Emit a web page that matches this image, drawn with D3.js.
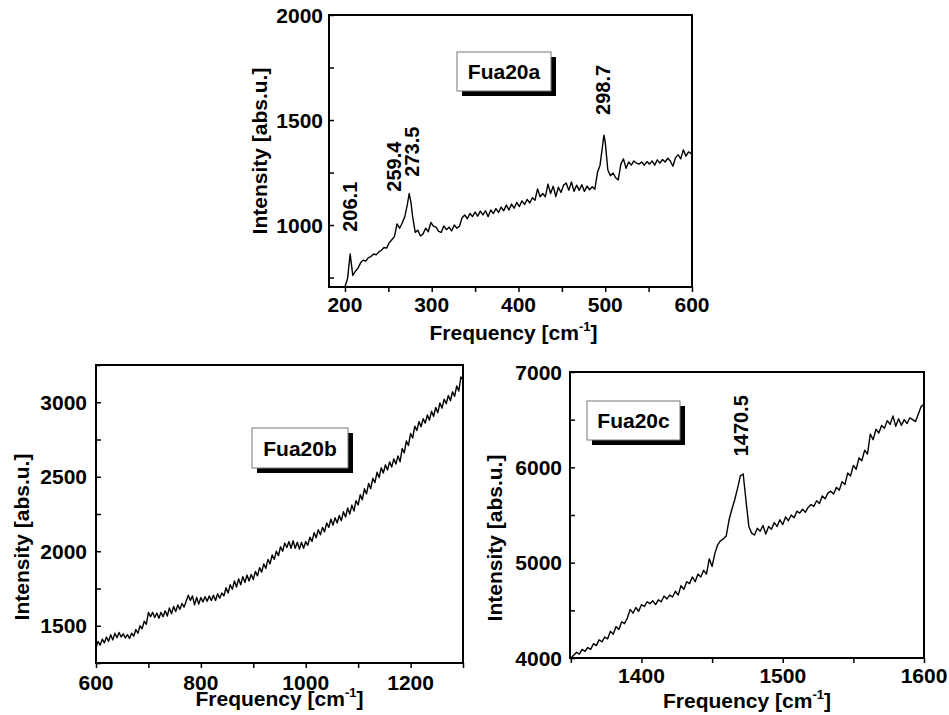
<!DOCTYPE html>
<html>
<head>
<meta charset="utf-8">
<script src="https://cdn.jsdelivr.net/npm/d3@7"></script>
<style>
body { margin: 0; background: #fff; }
text { font-family: "Liberation Sans", Arial, sans-serif; }
</style>
</head>
<body>
<svg width="949" height="715"></svg>
<script>
// spectra, [frequency, intensity]
var specA = [[200,706],[203,745],[206,862],[209,760],[212,780],[215,795],[218,820],[221,833],[224,828],[227,845],[230,850],
  [233,862],[236,858],[239,872],[242,880],[245,893],[248,890],[251,915],[254,930],[257,945],[260,1005],[263,985],
  [266,1010],[269,1040],[272,1100],[274,1150],[276,1110],[278,1040],[281,965],[284,975],[287,948],[290,958],[293,985],
  [296,968],[299,1012],[302,995],[305,990],[308,970],[311,965],[314,995],[317,978],[320,990],[323,972],[326,1000],
  [329,985],[332,995],[335,1035],[338,1048],[341,1030],[344,1055],[347,1040],[350,1062],[353,1042],[356,1066],
  [359,1048],[362,1068],[365,1040],[368,1072],[371,1055],[374,1078],[377,1060],[380,1085],[383,1068],[386,1095],
  [389,1072],[392,1100],[395,1080],[398,1108],[401,1088],[404,1115],[407,1098],[410,1122],[413,1105],[416,1130],
  [419,1118],[422,1172],[425,1135],[428,1150],[431,1135],[434,1195],[437,1150],[440,1185],[443,1135],[446,1180],
  [449,1155],[452,1190],[455,1200],[458,1165],[461,1205],[464,1160],[467,1190],[470,1165],[473,1192],[476,1160],
  [479,1185],[482,1168],[485,1182],[488,1170],[491,1250],[494,1285],[497,1380],[498.5,1428],[500,1395],[503,1262],
  [506,1235],[509,1248],[512,1225],[515,1215],[518,1290],[521,1315],[524,1270],[527,1300],[530,1285],[533,1305],
  [536,1295],[539,1290],[542,1300],[545,1285],[548,1302],[551,1290],[554,1305],[557,1285],[560,1310],[563,1295],
  [566,1312],[569,1300],[572,1318],[575,1305],[578,1280],[581,1320],[584,1335],[587,1315],[590,1358],[593,1328],
  [596,1348],[599,1340]];

var specB = [[600,1350],[604,1395],[608,1370],[612,1410],[616,1385],[620,1425],[624,1395],[628,1440],[632,1405],
  [636,1450],[640,1420],[644,1455],[648,1425],[652,1445],[656,1418],[660,1440],[664,1415],[668,1450],[672,1430],
  [676,1475],[680,1450],[684,1500],[688,1480],[692,1530],[696,1510],[700,1590],[704,1560],[708,1590],[712,1555],
  [716,1585],[720,1550],[724,1590],[728,1560],[732,1600],[736,1565],[740,1620],[744,1580],[748,1630],[752,1595],
  [756,1640],[760,1610],[764,1650],[768,1625],[772,1665],[776,1705],[780,1670],[784,1700],[788,1640],[792,1690],
  [796,1645],[800,1690],[804,1660],[808,1695],[812,1665],[816,1700],[820,1670],[824,1705],[828,1670],[832,1715],
  [836,1685],[840,1720],[844,1700],[848,1755],[852,1720],[856,1775],[860,1745],[864,1800],[868,1760],[872,1815],
  [876,1775],[880,1830],[884,1790],[888,1840],[892,1800],[896,1845],[900,1810],[904,1865],[908,1835],[912,1890],
  [916,1860],[920,1915],[924,1885],[928,1945],[932,1915],[936,1975],[940,1945],[944,2000],[948,1970],[952,2030],
  [956,2000],[960,2055],[964,2025],[968,2065],[972,2020],[976,2070],[980,2020],[984,2060],[988,2015],[992,2060],
  [996,2020],[1000,2065],[1004,2040],[1008,2095],[1012,2065],[1016,2125],[1020,2090],[1024,2145],[1028,2110],
  [1032,2160],[1036,2130],[1040,2190],[1044,2160],[1048,2215],[1052,2175],[1056,2225],[1060,2190],[1064,2240],
  [1068,2205],[1072,2265],[1076,2230],[1080,2290],[1084,2250],[1088,2310],[1092,2270],[1096,2340],[1100,2310],
  [1104,2380],[1108,2345],[1112,2420],[1116,2385],[1120,2455],[1124,2420],[1128,2490],[1132,2460],[1136,2530],
  [1140,2495],[1144,2560],[1148,2525],[1152,2580],[1156,2545],[1160,2600],[1164,2565],[1168,2620],[1172,2585],
  [1176,2640],[1180,2600],[1184,2690],[1188,2660],[1192,2740],[1196,2710],[1200,2790],[1204,2760],[1208,2840],
  [1212,2810],[1216,2870],[1220,2835],[1224,2890],[1228,2860],[1232,2915],[1236,2880],[1240,2940],[1244,2905],
  [1248,2965],[1252,2930],[1256,2995],[1260,2960],[1264,3020],[1268,2990],[1272,3045],[1276,3010],[1280,3070],
  [1284,3040],[1288,3110],[1292,3075],[1296,3170],[1300,3150]];

var specC = [[1350,4000],[1352,4030],[1354,4060],[1356,4040],[1358,4090],[1360,4070],[1362,4110],[1364,4090],
  [1366,4150],[1368,4130],[1370,4190],[1372,4170],[1374,4220],[1376,4200],[1378,4280],[1380,4250],[1382,4330],
  [1384,4300],[1386,4380],[1388,4360],[1390,4420],[1392,4510],[1394,4470],[1396,4530],[1398,4490],[1400,4560],
  [1402,4540],[1404,4590],[1406,4570],[1408,4600],[1410,4560],[1412,4610],[1414,4590],[1416,4650],[1418,4620],
  [1420,4660],[1422,4640],[1424,4700],[1426,4660],[1428,4760],[1430,4720],[1432,4800],[1434,4780],[1436,4850],
  [1438,4800],[1440,4880],[1442,4850],[1444,4920],[1446,4880],[1448,5040],[1450,4960],[1452,5100],[1454,5190],
  [1456,5230],[1458,5250],[1460,5280],[1462,5450],[1464,5560],[1466,5660],[1468,5780],[1470,5910],[1472,5930],
  [1474,5650],[1476,5380],[1478,5310],[1480,5290],[1482,5360],[1484,5330],[1486,5390],[1488,5300],[1490,5380],
  [1492,5350],[1494,5420],[1496,5380],[1498,5450],[1500,5400],[1502,5480],[1504,5440],[1506,5500],[1508,5470],
  [1510,5540],[1512,5520],[1514,5560],[1516,5530],[1518,5580],[1520,5610],[1522,5590],[1524,5650],[1526,5620],
  [1528,5700],[1530,5670],[1532,5730],[1534,5750],[1536,5720],[1538,5790],[1540,5760],[1542,5850],[1544,5820],
  [1546,5940],[1548,5910],[1550,6020],[1552,5980],[1554,6100],[1556,6070],[1558,6180],[1560,6140],[1562,6350],
  [1564,6290],[1566,6400],[1568,6360],[1570,6440],[1572,6410],[1574,6490],[1576,6450],[1578,6540],[1580,6430],
  [1582,6510],[1584,6440],[1586,6500],[1588,6460],[1590,6520],[1592,6500],[1594,6480],[1596,6560],[1598,6640],
  [1600,6660]];

// peak labels: [text, frequency, intensity where the label starts]
var peaksA = [["206.1", 206, 968], ["259.4", 256, 1159], ["273.5", 277, 1230], ["298.7", 497.5, 1524]];
var peaksC = [["1470.5", 1470.2, 6115]];

var ticksA = [200, 300, 400, 500, 600], minorA = d3.range(200, 601, 50);
var yTicksA = [1000, 1500, 2000], yMinorA = [750, 1000, 1250, 1500, 1750, 2000];
var ticksB = [600, 800, 1000, 1200], minorB = d3.range(600, 1301, 100);
var yTicksB = [1500, 2000, 2500, 3000], yMinorB = d3.range(1250, 3251, 250);
var ticksC = [1400, 1500, 1600], minorC = d3.range(1350, 1601, 50);
var yTicksC = [4000, 5000, 6000, 7000], yMinorC = d3.range(4000, 7001, 500);

var svg = d3.select("svg");

function panel(o) {
  var x = d3.scaleLinear().domain(o.xd).range([o.l, o.r]);
  var y = d3.scaleLinear().domain(o.yd).range([o.b, o.t]);
  var g = svg.append("g");

  // ticks: bottom outward, left inward
  g.append("g").attr("transform", "translate(0," + o.b + ")")
    .call(d3.axisBottom(x).tickValues(o.minor).tickSize(5).tickFormat(""))
    .call(function(a) { a.select(".domain").remove(); a.selectAll("line").attr("stroke-width", 1.5); });
  g.append("g").attr("transform", "translate(" + o.l + ",0)")
    .call(d3.axisRight(y).tickValues(o.yminor).tickSize(5).tickFormat(""))
    .call(function(a) { a.select(".domain").remove(); a.selectAll("line").attr("stroke-width", 1.5); });

  g.selectAll(".xl").data(o.ticks).enter().append("text")
    .attr("x", function(d) { return x(d); }).attr("y", o.b + o.xlab)
    .attr("text-anchor", "middle").attr("font-size", 21).attr("font-weight", "bold").text(function(d) { return d; });
  g.selectAll(".yl").data(o.yticks).enter().append("text")
    .attr("x", o.l - o.ylab).attr("y", function(d) { return y(d); }).attr("dy", "0.36em")
    .attr("text-anchor", "end").attr("font-size", 21).attr("font-weight", "bold").text(function(d) { return d; });

  var clipId = "clip" + o.name;
  svg.append("clipPath").attr("id", clipId).append("rect")
    .attr("x", o.l).attr("y", o.t).attr("width", o.r - o.l).attr("height", o.b - o.t);

  var line = d3.line().x(function(d) { return x(d[0]); }).y(function(d) { return y(d[1]); });
  g.append("path").datum(o.data).attr("d", line).attr("clip-path", "url(#" + clipId + ")")
    .attr("fill", "none").attr("stroke", "#000").attr("stroke-width", 1.4).attr("stroke-linejoin", "round");

  g.append("rect").attr("x", o.l).attr("y", o.t).attr("width", o.r - o.l).attr("height", o.b - o.t)
    .attr("fill", "none").attr("stroke", "#000").attr("stroke-width", 2);

  // axis titles
  var ft = g.append("text").attr("x", (o.l + o.r) / 2 + o.fdx).attr("y", o.fy)
    .attr("text-anchor", "middle").attr("font-size", 21).attr("font-weight", "bold");
  ft.append("tspan").text("Frequency [cm");
  ft.append("tspan").attr("font-size", 13).attr("dy", -9).text("-1");
  ft.append("tspan").attr("dy", 9).text("]");

  g.append("text").attr("transform", "translate(" + o.iy + "," + ((o.t + o.b) / 2 + o.idy) + ") rotate(-90)")
    .attr("text-anchor", "middle").attr("font-size", 21).attr("font-weight", "bold").text("Intensity [abs.u.]");

  // legend box with shadow
  g.append("rect").attr("x", o.box[0] + 5).attr("y", o.box[1] + 5).attr("width", o.box[2]).attr("height", o.box[3]).attr("fill", "#000");
  g.append("rect").attr("x", o.box[0]).attr("y", o.box[1]).attr("width", o.box[2]).attr("height", o.box[3])
    .attr("fill", "#fff").attr("stroke", "#777").attr("stroke-width", 1);
  g.append("text").attr("x", o.box[0] + o.box[2] / 2).attr("y", o.box[1] + o.box[3] / 2).attr("dy", "0.36em")
    .attr("text-anchor", "middle").attr("font-size", 21).attr("font-weight", "bold").text(o.name);

  g.selectAll(".pk").data(o.peaks || []).enter().append("text")
    .attr("transform", function(d) { return "translate(" + x(d[1]) + "," + y(d[2]) + ") rotate(-90)"; })
    .attr("dy", "0.36em").attr("font-size", 20).attr("font-weight", "bold").text(function(d) { return d[0]; });
}

panel({ name: "Fua20a", data: specA, peaks: peaksA, l: 329, r: 692, t: 15, b: 287, xd: [181.6, 600], yd: [705, 2000],
  ticks: ticksA, minor: minorA, yticks: yTicksA, yminor: yMinorA, xlab: 25, ylab: 6,
  fy: 340, fdx: 3, iy: 267, idy: 0, box: [457, 52, 94, 39] });
panel({ name: "Fua20b", data: specB, l: 96, r: 463, t: 365, b: 663, xd: [600, 1300], yd: [1250, 3250],
  ticks: ticksB, minor: minorB, yticks: yTicksB, yminor: yMinorB, xlab: 27, ylab: 9,
  fy: 706, fdx: -0, iy: 29, idy: 23, box: [252, 428, 96, 40] });
panel({ name: "Fua20c", data: specC, peaks: peaksC, l: 570, r: 924, t: 372, b: 658, xd: [1349.4, 1600], yd: [4000, 7000],
  ticks: ticksC, minor: minorC, yticks: yTicksC, yminor: yMinorC, xlab: 25, ylab: 8,
  fy: 708, fdx: 0, iy: 502, idy: 23, box: [587, 401, 93, 39] });
</script>
</body>
</html>
